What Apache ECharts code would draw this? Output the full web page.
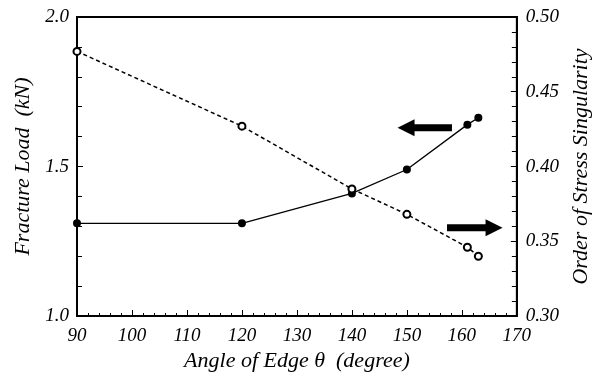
<!DOCTYPE html>
<html><head><meta charset="utf-8">
<script src="https://cdn.jsdelivr.net/npm/echarts@6/dist/echarts.min.js"></script>
<style>html,body{margin:0;padding:0;background:#fff}#c{width:600px;height:380px}</style>
</head><body><div id="c"></div>
<script>
var angles = [90, 120, 140, 150, 161, 163];
var fractureLoad = [1.31, 1.31, 1.41, 1.49, 1.64, 1.663];
var stressOrder = [0.477, 0.427, 0.385, 0.368, 0.346, 0.340];
// arrow annotations: [tailX, tipX, y] in data units (left axis for first, right axis for second)
var arrowLeft = [158.2, 148.3, 1.63];
var arrowRight = [157.3, 167.4, 0.359];

var F = 'Liberation Serif';
var lab = {fontFamily: F, fontStyle: 'italic', fontSize: 19, color: '#000'};
var nm = {fontFamily: F, fontStyle: 'italic', fontSize: 22, color: '#000'};
var chart = echarts.init(document.getElementById('c'));
chart.setOption({
  animation: false,
  textStyle: {fontFamily: F},
  grid: {left: 77, right: 70, top: 17, bottom: 64, show: true, borderColor: '#000', borderWidth: 2, backgroundColor: 'transparent'},
  xAxis: {type: 'value', min: 90, max: 170, interval: 10,
    name: 'Angle of Edge \u03b8  (degree)', nameLocation: 'middle', nameGap: 32, nameTextStyle: nm,
    axisLine: {lineStyle: {color: '#000', width: 2}},
    axisTick: {inside: true, length: 6, lineStyle: {color: '#000', width: 1}},
    minorTick: {show: true, splitNumber: 5, length: 3, lineStyle: {color: '#000', width: 1}},
    axisLabel: Object.assign({margin: 10}, lab),
    splitLine: {show: false}},
  yAxis: [
    {type: 'value', min: 1, max: 2, interval: 0.5, position: 'left',
     name: 'Fracture Load  (kN)', nameLocation: 'middle', nameGap: 43, nameTextStyle: nm,
     axisLine: {lineStyle: {color: '#000', width: 2}},
     axisTick: {inside: true, length: 6, lineStyle: {color: '#000', width: 1}},
     minorTick: {show: true, splitNumber: 5, length: 5, lineStyle: {color: '#000', width: 1}},
     axisLabel: Object.assign({margin: 8, formatter: function(v){return v.toFixed(1);}}, lab),
     splitLine: {show: false}},
    {type: 'value', min: 0.3, max: 0.5, interval: 0.05, position: 'right',
     name: 'Order of Stress Singularity', nameLocation: 'middle', nameGap: 50, nameRotate: 90, nameTextStyle: nm,
     axisLine: {lineStyle: {color: '#000', width: 2}},
     axisTick: {inside: true, length: 6, lineStyle: {color: '#000', width: 1}},
     minorTick: {show: true, splitNumber: 5, length: 5, lineStyle: {color: '#000', width: 1}},
     axisLabel: Object.assign({margin: 9, formatter: function(v){return v.toFixed(2);}}, lab),
     splitLine: {show: false}}
  ],
  series: [
    {type: 'line', data: angles.map(function(a,i){return [a, fractureLoad[i]];}),
     symbol: 'circle', symbolSize: 8, itemStyle: {color: '#000'},
     lineStyle: {color: '#000', width: 1.3}},
    {type: 'line', yAxisIndex: 1, data: angles.map(function(a,i){return [a, stressOrder[i]];}),
     symbol: 'emptyCircle', symbolSize: 7, itemStyle: {color: '#000', borderColor: '#000', borderWidth: 1},
     lineStyle: {color: '#000', width: 1.5, type: [4, 3]}}
  ]
});

function arrowShape(a, axisIdx) {
  var t = chart.convertToPixel({xAxisIndex: 0, yAxisIndex: axisIdx}, [a[0], a[2]]);
  var p = chart.convertToPixel({xAxisIndex: 0, yAxisIndex: axisIdx}, [a[1], a[2]]);
  var dir = p[0] > t[0] ? 1 : -1;
  var head = 17, hw = 8.5, sw = 3.5;
  var hx = p[0] - dir * head, y = p[1];
  return {type: 'polygon', shape: {points: [
    [t[0], y - sw], [hx, y - sw], [hx, y - hw], [p[0], y], [hx, y + hw], [hx, y + sw], [t[0], y + sw]
  ]}, style: {fill: '#000'}};
}
chart.setOption({graphic: [arrowShape(arrowLeft, 0), arrowShape(arrowRight, 1)]});
</script></body></html>
